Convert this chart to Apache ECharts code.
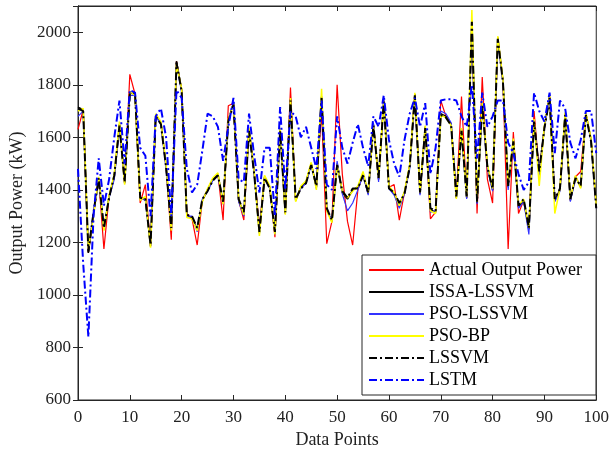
<!DOCTYPE html>
<html lang="en">
<head>
    <meta charset="UTF-8">
    <title>Output Power</title>
    <script src="https://cdn.jsdelivr.net/npm/echarts@6/dist/echarts.min.js"></script>
    <style>
        html, body { margin: 0; padding: 0; background: #fff; }
        #chart { width: 612px; height: 459px; }
    </style>
</head>
<body>
<div id="chart"></div>
<script type="text/javascript">
    // values, one per data point (0..100)
    var actual = [1630,1705,1160,1310,1440,1175,1375,1450,1650,1425,1840,1765,1350,1420,1185,1685,1655,1490,1210,1890,
        1780,1310,1290,1190,1360,1400,1440,1460,1285,1720,1730,1360,1285,1630,1465,1260,1450,1410,1220,1630,
        1310,1790,1360,1410,1430,1500,1410,1700,1195,1280,1800,1460,1280,1190,1400,1460,1385,1650,1440,1740,
        1410,1420,1285,1390,1490,1765,1385,1640,1290,1315,1740,1680,1650,1370,1755,1370,2045,1310,1830,1440,
        1350,1980,1815,1175,1620,1310,1360,1250,1700,1465,1640,1755,1360,1400,1690,1360,1450,1470,1690,1590,1335];
    var issaLssvm = [1715,1705,1160,1310,1440,1250,1375,1450,1650,1425,1770,1765,1365,1370,1185,1685,1655,1490,1250,1890,
        1780,1300,1295,1250,1360,1400,1440,1460,1350,1665,1730,1360,1310,1630,1465,1235,1450,1410,1235,1630,
        1310,1745,1360,1410,1430,1500,1410,1755,1325,1280,1500,1390,1365,1400,1410,1460,1385,1650,1440,1740,
        1410,1385,1345,1390,1490,1765,1385,1640,1325,1315,1690,1680,1650,1370,1630,1370,2045,1350,1730,1490,
        1400,1980,1815,1410,1590,1335,1360,1250,1665,1465,1640,1755,1360,1400,1690,1360,1450,1410,1690,1590,1335];
    var psoLssvm = [1680,1700,1170,1320,1430,1260,1370,1440,1640,1430,1760,1760,1370,1360,1190,1680,1650,1480,1260,1880,
        1770,1300,1300,1240,1365,1395,1435,1455,1345,1660,1735,1355,1300,1625,1460,1240,1445,1405,1230,1625,
        1320,1740,1365,1405,1425,1495,1405,1750,1320,1285,1510,1385,1320,1350,1400,1455,1380,1655,1430,1745,
        1405,1380,1330,1385,1480,1760,1380,1635,1315,1320,1700,1690,1655,1375,1620,1365,2040,1345,1725,1480,
        1395,1975,1810,1400,1585,1330,1355,1230,1660,1455,1635,1750,1355,1395,1685,1355,1445,1415,1685,1585,1330];
    var psoBp = [1700,1710,1175,1300,1450,1245,1380,1460,1660,1420,1775,1760,1360,1375,1180,1690,1660,1495,1245,1880,
        1785,1295,1290,1245,1355,1405,1445,1465,1345,1670,1725,1365,1305,1635,1470,1225,1455,1415,1230,1635,
        1305,1750,1355,1415,1435,1505,1400,1785,1320,1275,1495,1395,1370,1395,1415,1470,1390,1645,1445,1735,
        1415,1390,1340,1395,1495,1770,1390,1645,1320,1310,1685,1675,1645,1365,1635,1375,2085,1355,1735,1495,
        1405,1985,1820,1415,1595,1340,1365,1255,1670,1415,1645,1760,1310,1405,1695,1365,1455,1405,1695,1595,1340];
    var lssvm = [1710,1700,1165,1315,1445,1255,1370,1455,1645,1430,1765,1770,1370,1365,1190,1680,1650,1485,1255,1885,
        1775,1305,1300,1255,1365,1395,1435,1455,1355,1660,1725,1365,1315,1625,1460,1240,1445,1405,1240,1625,
        1315,1740,1365,1405,1425,1495,1415,1750,1330,1285,1495,1395,1370,1405,1405,1455,1390,1645,1445,1735,
        1405,1390,1350,1385,1485,1760,1390,1635,1330,1320,1685,1675,1645,1375,1625,1375,2040,1355,1725,1485,
        1405,1975,1810,1415,1585,1340,1365,1255,1660,1470,1635,1750,1365,1405,1685,1365,1445,1415,1685,1585,1330];
    var lstm = [1480,1120,840,1300,1520,1340,1440,1600,1740,1500,1780,1770,1560,1530,1300,1680,1710,1600,1300,1780,
        1750,1480,1390,1420,1550,1690,1680,1640,1510,1640,1750,1440,1430,1690,1530,1390,1560,1560,1300,1715,
        1400,1700,1680,1600,1640,1560,1480,1740,1420,1400,1680,1560,1500,1580,1650,1560,1490,1680,1640,1760,
        1590,1500,1450,1590,1690,1750,1640,1730,1460,1560,1740,1745,1745,1740,1680,1640,1800,1520,1770,1640,
        1680,1740,1740,1580,1540,1460,1400,1430,1770,1700,1660,1770,1540,1740,1710,1580,1520,1590,1700,1700,1540];

    var seriesNames = ['Actual Output Power', 'ISSA-LSSVM', 'PSO-LSSVM', 'PSO-BP', 'LSSVM', 'LSTM'];

    function toPairs(arr) {
        return arr.map(function (v, i) { return [i, v]; });
    }

    var font = 'Liberation Serif';
    var chart = echarts.init(document.getElementById('chart'));

    function lineSeries(name, arr, color, width, type) {
        return {
            name: name,
            type: 'line',
            data: toPairs(arr),
            showSymbol: false,
            symbol: 'none',
            animation: false,
            lineStyle: { color: color, width: width, type: type },
            itemStyle: { color: color }
        };
    }

    chart.setOption({
        animation: false,
        backgroundColor: '#fff',
        grid: {
            left: 75, right: 14, top: 6, bottom: 59,
            show: true, borderColor: '#262626', borderWidth: 1
        },
        legend: {
            orient: 'vertical',
            left: 362, top: 255,
            padding: [6, 14, 6, 6],
            itemWidth: 55, itemHeight: 14, itemGap: 4,
            borderColor: '#262626', borderWidth: 1,
            backgroundColor: '#fff',
            itemStyle: { opacity: 0 },
            textStyle: { fontFamily: font, fontSize: 18, color: '#000' },
            data: seriesNames
        },
        xAxis: [{
            type: 'value', min: 0, max: 100, interval: 10,
            name: 'Data Points', nameLocation: 'middle', nameGap: 31,
            nameTextStyle: { fontFamily: font, fontSize: 18, color: '#222' },
            axisLine: { show: true, lineStyle: { color: '#262626' } },
            axisTick: { inside: true, length: 5, lineStyle: { color: '#262626' } },
            axisLabel: { fontFamily: font, fontSize: 17, color: '#222', margin: 9 },
            splitLine: { show: false }
        }, {
            type: 'value', min: 0, max: 100, interval: 10, position: 'top',
            axisLine: { show: true, lineStyle: { color: '#262626' } },
            axisTick: { inside: true, length: 5, lineStyle: { color: '#262626' } },
            axisLabel: { show: false },
            splitLine: { show: false }
        }],
        yAxis: [{
            type: 'value', min: 600, max: 2100, interval: 200,
            name: 'Output Power (kW)', nameLocation: 'middle', nameGap: 52,
            nameTextStyle: { fontFamily: font, fontSize: 18, color: '#222' },
            axisLine: { show: true, lineStyle: { color: '#262626' } },
            axisTick: { inside: true, length: 5, lineStyle: { color: '#262626' } },
            axisLabel: {
                fontFamily: font, fontSize: 17, color: '#222', margin: 7,
                formatter: function (v) { return v > 2000 ? '' : String(v); }
            },
            splitLine: { show: false }
        }, {
            type: 'value', min: 600, max: 2100, interval: 200, position: 'right',
            axisLine: { show: true, lineStyle: { color: '#262626' } },
            axisTick: { inside: true, length: 5, lineStyle: { color: '#262626' } },
            axisLabel: { show: false },
            splitLine: { show: false }
        }],
        series: [
            lineSeries(seriesNames[0], actual, '#ff0000', 1.2, 'solid'),
            lineSeries(seriesNames[1], issaLssvm, '#000000', 1.5, 'solid'),
            lineSeries(seriesNames[2], psoLssvm, '#3333ff', 1.2, 'solid'),
            lineSeries(seriesNames[3], psoBp, '#ffff00', 1.5, 'solid'),
            lineSeries(seriesNames[4], lssvm, '#000000', 2, [8, 3, 2, 3]),
            lineSeries(seriesNames[5], lstm, '#0000ff', 2, [8, 3, 2, 3])
        ]
    });
</script>
</body>
</html>
